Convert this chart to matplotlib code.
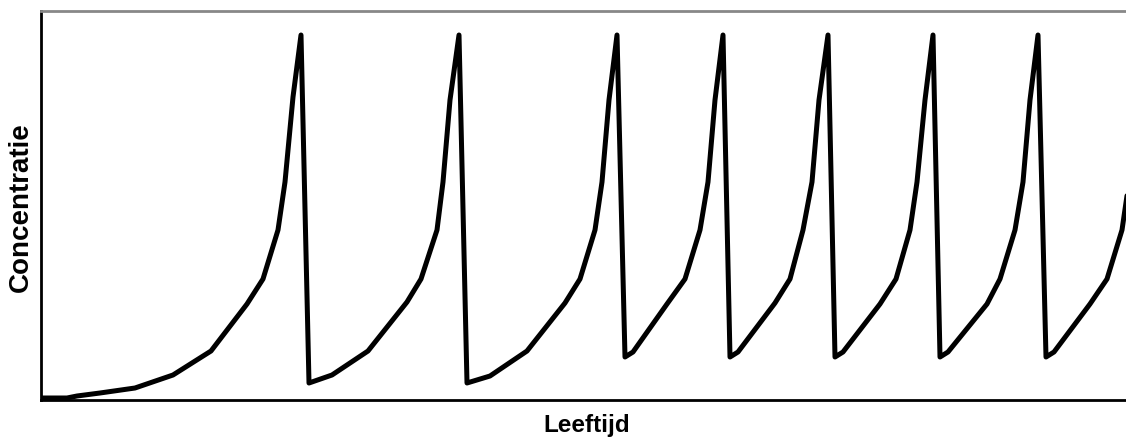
import matplotlib
matplotlib.use("Agg")
import matplotlib.pyplot as plt

# Age (arbitrary units) and concentration (arbitrary units)
age = [0, 26, 36, 59, 94, 132, 170, 206, 222, 237, 244, 252, 260,
       268, 291, 327, 366, 380, 396, 402, 409, 418,
       426, 449, 486, 524, 539, 554, 561, 568, 576,
       584, 592, 626, 644, 659, 667, 674, 682,
       689, 697, 734, 749, 762, 771, 778, 787,
       794, 802, 839, 855, 869, 876, 884, 892,
       899, 907, 946, 959, 974, 982, 989, 997,
       1005, 1013, 1049, 1066, 1081, 1088, 1095, 1103]
concentration = [2, 2, 4, 7, 12, 25, 49, 96, 121, 170, 218, 303, 365,
                 17, 25, 49, 98, 121, 170, 218, 300, 365,
                 17, 24, 49, 97, 121, 170, 218, 300, 365,
                 43, 48, 96, 121, 170, 218, 300, 365,
                 43, 48, 97, 121, 170, 218, 300, 365,
                 43, 48, 96, 121, 170, 218, 300, 365,
                 43, 48, 96, 121, 170, 218, 300, 365,
                 43, 48, 96, 121, 170, 218, 300, 365]

x_label = "Leeftijd"
y_label = "Concentratie"

W, H = 1126, 437
fig = plt.figure(figsize=(W / 100, H / 100), dpi=100)
ax = fig.add_axes([41 / W, 37 / H, (W - 41) / W, 389 / H])

ax.plot(age, concentration, color="black", linewidth=3.6,
        solid_joinstyle="round", solid_capstyle="round", clip_on=True)

ax.set_xlim(0, W - 41)
ax.set_ylim(0, 389)
ax.set_xticks([])
ax.set_yticks([])

ax.spines["right"].set_visible(False)
ax.spines["left"].set_color("black")
ax.spines["left"].set_linewidth(2.0)
ax.spines["bottom"].set_color("black")
ax.spines["bottom"].set_linewidth(2.0)
ax.spines["top"].set_color("#888888")
ax.spines["top"].set_linewidth(2.0)

font = ["Liberation Sans", "DejaVu Sans"]
fig.text(21 / W, 1 - 207 / H, y_label, rotation=90, ha="center", va="center",
         fontsize=20, fontweight="bold", family=font)
fig.text(587 / W, 1 - 432 / H, x_label, ha="center", va="baseline",
         fontsize=17.5, fontweight="bold", family=font)

fig.savefig("out.png", dpi=100)
